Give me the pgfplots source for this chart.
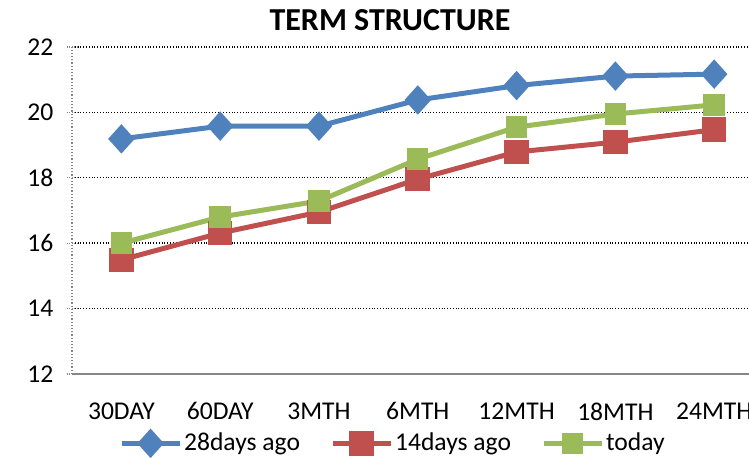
\documentclass[border=0pt]{standalone}
\usepackage{fontspec}
\setmainfont{Carlito}
\usepackage{pgfplots}
\pgfplotsset{compat=1.18}
\definecolor{myblue}{HTML}{4F81BD}
\definecolor{myred}{HTML}{C0504D}
\definecolor{mygreen}{HTML}{9BBB59}
\definecolor{axisgray}{HTML}{868686}

\begin{document}
\begin{tikzpicture}
	\begin{axis}[
			at={(36pt,42pt)},
			anchor=south west,
			scale only axis,
			width=345.8pt,
			height=163.5pt,
			xmin=-0.5, xmax=6.5,
			ymin=12, ymax=22,
			ytick={12,14,16,18,20,22},
			xtick={0,1,2,3,4,5,6},
			xticklabels={30DAY,60DAY,3MTH,6MTH,12MTH,18MTH,24MTH},
			x tick style={draw=none},
			extra x ticks={-0.5,0.5,1.5,2.5,3.5,4.5,5.5,6.5},
			extra x tick labels={},
			extra x tick style={
				major tick length=5pt,
				tick align=outside,
				tick style={draw=axisgray, line width=0.8pt},
				grid=none,
			},
			y tick style={draw=axisgray, densely dotted, line width=0.6pt},
			major tick length=5pt,
			tick align=outside,
			axis x line=bottom,
			axis y line=left,
			x axis line style={-, draw=axisgray, line width=1pt},
			y axis line style={-, draw=axisgray, densely dotted, line width=0.6pt},
			ymajorgrids=true,
			major grid style={black, densely dotted, line width=0.7pt},
			/pgf/number format/assume math mode=true,
			tick label style={font=\fontsize{12.8}{14}\selectfont},
			xticklabel style={yshift=-10.6pt, inner sep=1pt},
			yticklabel style={xshift=-3.3pt},
			legend columns=3,
			legend style={
				draw=none, fill=none,
				at={(0.464,-0.212)}, anchor=center,
				font=\fontsize{12.8}{14}\selectfont,
				/tikz/every even column/.append style={column sep=14pt},
				inner sep=0pt,
				nodes={inner sep=1pt},
			},
			legend image code/.code={%
				\draw[mark repeat=2, mark phase=2, #1] plot coordinates {(0pt,0pt) (14.5pt,0pt) (29pt,0pt)};
			},
			clip=false,
		]
		\addplot[myblue, line width=2.5pt, mark=diamond*, mark size=5.5pt, mark options={xscale=1.2, solid}] coordinates {
			(0, 19.19)
			(1, 19.58)
			(2, 19.58)
			(3, 20.38)
			(4, 20.82)
			(5, 21.11)
			(6, 21.17)
		};
		\addplot[myred, line width=2.5pt, mark=square*, mark size=4.9pt, mark options={solid}] coordinates {
			(0, 15.49)
			(1, 16.31)
			(2, 16.95)
			(3, 17.96)
			(4, 18.79)
			(5, 19.09)
			(6, 19.47)
		};
		\addplot[mygreen, line width=2.5pt, mark=square*, mark size=4.1pt, mark options={solid}] coordinates {
			(0, 16.00)
			(1, 16.80)
			(2, 17.29)
			(3, 18.57)
			(4, 19.55)
			(5, 19.95)
			(6, 20.23)
		};
		\legend{28days ago, 14days ago, today}
	\end{axis}
	\node[font=\bfseries\fontsize{16}{18}\selectfont, inner sep=0pt] at (195pt,219pt) {TERM STRUCTURE};
	\pgfresetboundingbox
	\useasboundingbox (0pt,0pt) rectangle (374.5pt,229pt);
\end{tikzpicture}
\end{document}
